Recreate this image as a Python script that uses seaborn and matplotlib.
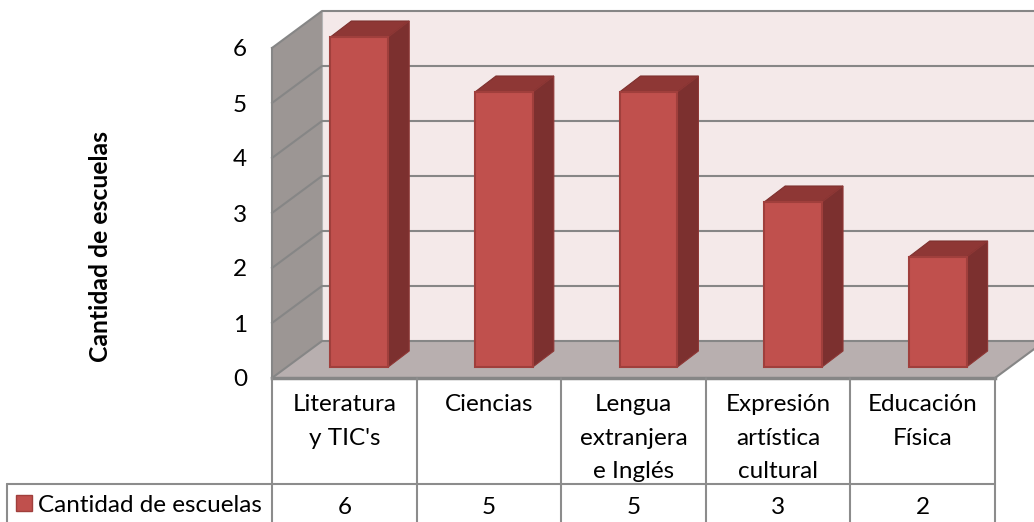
import matplotlib
matplotlib.use("Agg")
import matplotlib.pyplot as plt
from matplotlib.patches import Polygon, Rectangle
from matplotlib.transforms import Affine2D, blended_transform_factory
import numpy as np
import pandas as pd
import seaborn as sns

categories = ["Literatura\ny TIC's", "Ciencias", "Lengua\nextranjera\ne Inglés",
              "Expresión\nartística\ncultural", "Educación\nFísica"]
values = [6, 5, 5, 3, 2]
series_name = "Cantidad de escuelas"
y_ticks = [0, 1, 2, 3, 4, 5, 6]

W, H = 1034, 522
FS = 17.5
sns.set_theme(style="white")
plt.rcParams["font.family"] = ["Lato", "DejaVu Sans"]
fig = plt.figure(figsize=(W / 100, H / 100), dpi=100, facecolor="white")
ax = fig.add_axes([272 / W, 1 - 378 / H, (995 - 272) / W, 330 / H])
df = pd.DataFrame({"cat": categories, "val": values})
sns.barplot(data=df, x="cat", y="val", width=0.4, color="#C0504D", saturation=1, ax=ax,
            edgecolor="#A03F3C", linewidth=1.5, zorder=5)
ax.set_xlim(-0.5, 4.5)
ax.set_ylim(0, 6)
for s in ax.spines.values():
    s.set_visible(False)
ax.patch.set_visible(False)
ax.set_xlabel("")
px = Affine2D().scale(1, -1).translate(0, H)
ax.set_ylabel("Cantidad de escuelas", fontsize=17.8, fontweight="bold", color="black", labelpad=0)
ax.yaxis.label.set_verticalalignment("center")
ax.yaxis.set_label_coords(100, 247, transform=px)
ax.set_yticks(y_ticks)
ax.tick_params(axis="y", length=0, pad=18, labelsize=FS, labelcolor="black")
ax.set_xticks([])

GRID = "#868686"
back = (50, 37)
barshift = (15, 11)
bardepth = (21, 16)


def to_px(x, y, dx=0, dy=0):
    p = ax.transData.transform((x, y))
    return (p[0] + dx, p[1] + dy)


idt = matplotlib.transforms.IdentityTransform()
x0, x1 = ax.get_xlim()
top = max(y_ticks)


def poly(pts, **kw):
    fig.add_artist(Polygon(pts, closed=True, transform=idt, **kw))


# walls
poly([to_px(x0, 0, *back), to_px(x1, 0, *back), to_px(x1, top, *back), to_px(x0, top, *back)],
     facecolor="#F4E9E9", edgecolor="none", zorder=-5)
poly([to_px(x0, 0), to_px(x0, 0, *back), to_px(x0, top, *back), to_px(x0, top)],
     facecolor="#9C9694", edgecolor="none", zorder=-5)
poly([to_px(x0, 0), to_px(x1, 0), to_px(x1, 0, *back), to_px(x0, 0, *back)],
     facecolor="#B8AFAF", edgecolor="none", zorder=-5)


def line(pts, lw=1.5, color=GRID):
    xs, ys = zip(*pts)
    fig.add_artist(plt.Line2D(xs, ys, transform=idt, color=color, lw=lw, zorder=-4,
                              solid_capstyle="projecting"))


line([to_px(x0, 0, *back), to_px(x0, top, *back)], lw=0.8, color="#B5B5B5")
for t in y_ticks:
    line([to_px(x0, t), to_px(x0, t, *back), to_px(x1, t, *back)])
line([to_px(x0, 0), to_px(x0, top)])
line([to_px(x0, 0), to_px(x1, 0)], lw=2.5)
line([to_px(x1, 0), to_px(x1, 0, *back)])

# bars: shift front faces, add top and side faces
for patch in ax.patches:
    bx, by, bw, bh = patch.get_x(), patch.get_y(), patch.get_width(), patch.get_height()
    patch.set_transform(patch.get_data_transform() + Affine2D().translate(*barshift))
    patch.set_clip_on(False)
    sx, sy = barshift
    dx, dy = bardepth
    poly([to_px(bx, bh, sx, sy), to_px(bx + bw, bh, sx, sy),
          to_px(bx + bw, bh, sx + dx, sy + dy), to_px(bx, bh, sx + dx, sy + dy)],
         facecolor="#8E3735", edgecolor="#7D302E", lw=0.8, zorder=-2)
    poly([to_px(bx + bw, by, sx, sy), to_px(bx + bw, bh, sx, sy),
          to_px(bx + bw, bh, sx + dx, sy + dy), to_px(bx + bw, by, sx + dx, sy + dy)],
         facecolor="#7C302F", edgecolor="#8E3735", lw=0.8, zorder=-2)

# data table
TBL = "#8C8C8C"
blend = blended_transform_factory(ax.transData, px)
for b in np.arange(x0, x1 + 0.5):
    ax.plot([b, b], [378, 522], color=TBL, lw=1.5, transform=blend, clip_on=False)
fig.add_artist(plt.Line2D([7, 995], [484, 484], color=TBL, lw=1.5, transform=px))
fig.add_artist(plt.Line2D([7, 7], [484, 522], color=TBL, lw=1.5, transform=px))
for i, (c, v) in enumerate(zip(categories, values)):
    ax.text(i, 394, c, transform=blend, ha="center", va="top", fontsize=FS,
            linespacing=1.74, color="black", clip_on=False)
    ax.text(i, 507, str(v), transform=blend, ha="center", va="center", fontsize=FS,
            color="black", clip_on=False)
fig.add_artist(Rectangle((16, 495), 16, 16, transform=px, facecolor="#C0504D", edgecolor="#A03F3C", lw=1))
fig.text(38, 506, series_name, transform=px, ha="left", va="center", fontsize=FS, color="black")

fig.savefig("out.png", dpi=100)
